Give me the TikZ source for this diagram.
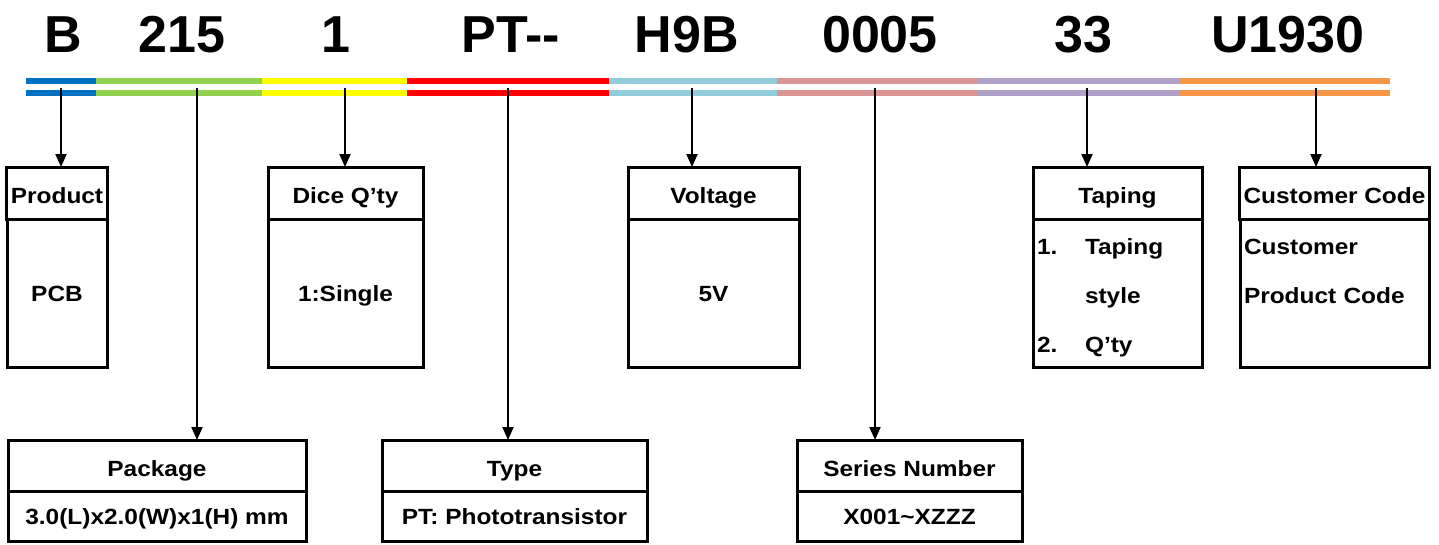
\documentclass[tikz,border=0pt]{standalone}
\usepackage{fontspec}
\setmainfont{Liberation Sans}[FakeStretch=1.11]
\newfontfamily\codefont{Liberation Sans}
\usepackage{tikz}
\usetikzlibrary{arrows.meta,positioning}
\definecolor{segblue}{HTML}{0070C0}
\definecolor{seggreen}{HTML}{92D050}
\definecolor{segyellow}{HTML}{FFFF00}
\definecolor{segred}{HTML}{FF0000}
\definecolor{segaqua}{HTML}{92CDDC}
\definecolor{segrose}{HTML}{DA9694}
\definecolor{seglilac}{HTML}{B1A0C7}
\definecolor{segorange}{HTML}{F79646}

\begin{document}
\begin{tikzpicture}[
  x=1pt,y=-1pt,
  code/.style={font=\codefont\bfseries\fontsize{52}{60}\selectfont,anchor=base,inner sep=0pt},
  hdr/.style={draw,line width=3pt,outer sep=0pt,inner sep=4pt,minimum height=52pt,
              text height=21pt,text depth=0pt,
              font=\bfseries\fontsize{22}{49}\selectfont},
  bdy/.style={draw,line width=3pt,outer sep=0pt,inner sep=4pt,
              font=\bfseries\fontsize{22}{49}\selectfont},
  val/.style={bdy,text height=16pt,text depth=0pt},
  lst/.style={bdy,align=left,text height=20pt,text depth=98pt},
  stripe/.style={line width=6pt,draw=#1},
  tick/.style={-{Triangle[length=13pt,width=11pt]},line width=2pt}
]
\useasboundingbox (0,0) rectangle (1439,544);

%------ the part number ---------------------------------------------------
\node[code] (codeB)    at (63,52)   {B};
\node[code] (code215)  at (182,52)  {215};
\node[code] (code1)    at (336,52)  {1};
\node[code] (codePT)   at (511,52)  {PT-{}-};
\node[code] (codeH9B)  at (687,52)  {H9B};
\node[code] (code0005) at (880,52)  {0005};
\node[code] (code33)   at (1083,52) {33};
\node[code] (codeU)    at (1288,52) {U1930};

%------ the double colour bar ----------------------------------------------
\draw[stripe=segblue]   (26,81)  -- (96,81)   (26,93)  -- (96,93);
\draw[stripe=seggreen]  (96,81)  -- (262,81)  (96,93)  -- (262,93);
\draw[stripe=segyellow] (262,81) -- (407,81)  (262,93) -- (407,93);
\draw[stripe=segred]    (407,81) -- (609,81)  (407,93) -- (609,93);
\draw[stripe=segaqua]   (609,81) -- (777,81)  (609,93) -- (777,93);
\draw[stripe=segrose]   (777,81) -- (978,81)  (777,93) -- (978,93);
\draw[stripe=seglilac]  (978,81) -- (1180,81) (978,93) -- (1180,93);
\draw[stripe=segorange] (1180,81) -- (1390,81) (1180,93) -- (1390,93);

\coordinate (tProd) at (61,88);
\coordinate (tPack) at (197,88);
\coordinate (tDice) at (345,88);
\coordinate (tType) at (508,88);
\coordinate (tVolt) at (692,88);
\coordinate (tSer)  at (875,88);
\coordinate (tTape) at (1087,88);
\coordinate (tCust) at (1316,88);

%------ upper row of boxes -------------------------------------------------
\node[hdr,minimum width=100pt] (prodH) at (57,193) {Product};
\node[val,minimum width=100pt,minimum height=148pt,below=0pt of prodH] (prodB) {PCB};

\node[hdr,minimum width=155pt] (diceH) at (345.5,193) {Dice Q’ty};
\node[val,minimum width=155pt,minimum height=148pt,below=0pt of diceH] (diceB) {1:Single};

\node[hdr,minimum width=171pt] (voltH) at (713.5,193) {Voltage};
\node[val,minimum width=171pt,minimum height=148pt,below=0pt of voltH] (voltB) {5V};

\node[hdr,minimum width=169pt] (tapeH) at (1117.5,193) {Taping};
\node[lst,minimum width=169pt,minimum height=148pt,text width=161pt,
      below=0pt of tapeH] (tapeB)
      {\makebox[48pt][l]{1.}Taping\\\hspace*{48pt}style\\\makebox[48pt][l]{2.}Q’ty};

\node[hdr,minimum width=189pt] (custH) at (1334.5,193) {Customer Code};
\node[lst,minimum width=189pt,minimum height=148pt,text width=181pt,
      below=0pt of custH] (custB) {Customer\\Product Code};

%------ lower row of boxes -------------------------------------------------
\node[hdr,minimum width=298pt,minimum height=51pt] (packH) at (157,465.5) {Package};
\node[val,minimum width=298pt,minimum height=50pt,below=0pt of packH] (packB) {3.0(L)x2.0(W)x1(H) mm};

\node[hdr,minimum width=265pt,minimum height=51pt] (typeH) at (514.5,465.5) {Type};
\node[val,minimum width=265pt,minimum height=50pt,below=0pt of typeH] (typeB) {PT: Phototransistor};

\node[hdr,minimum width=225pt,minimum height=51pt] (serH) at (909.5,465.5) {Series Number};
\node[val,minimum width=225pt,minimum height=50pt,below=0pt of serH] (serB) {X001\textasciitilde XZZZ};

%------ pointers -------------------------------------------------------------
\draw[tick] (tProd) -- (tProd |- prodH.north);
\draw[tick] (tPack) -- (tPack |- packH.north);
\draw[tick] (tDice) -- (tDice |- diceH.north);
\draw[tick] (tType) -- (tType |- typeH.north);
\draw[tick] (tVolt) -- (tVolt |- voltH.north);
\draw[tick] (tSer)  -- (tSer |- serH.north);
\draw[tick] (tTape) -- (tTape |- tapeH.north);
\draw[tick] (tCust) -- (tCust |- custH.north);
\end{tikzpicture}
\end{document}
